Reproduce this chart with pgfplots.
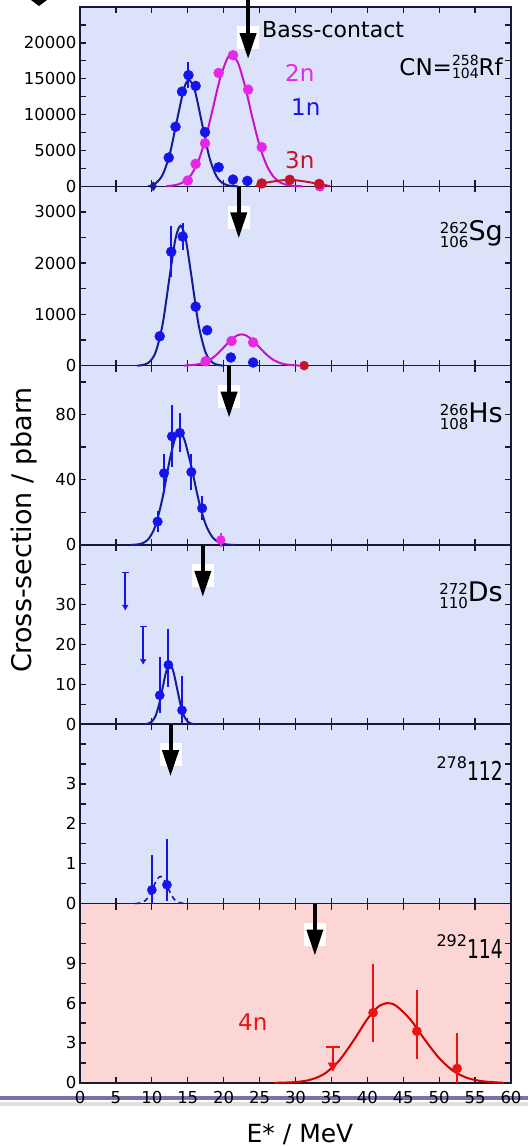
\documentclass[border=0pt]{standalone}
\usepackage{pgfplots}
\pgfplotsset{compat=1.18}
\usepackage{fontspec}
\setmainfont{DejaVu Sans}
\usepackage{graphicx}
\usetikzlibrary{arrows.meta}
\definecolor{bgblue}{RGB}{220,226,250}
\definecolor{bgpink}{RGB}{252,213,213}
\definecolor{axiscol}{RGB}{25,25,50}
\definecolor{ptblue}{RGB}{20,20,235}
\definecolor{cvblue}{RGB}{20,30,150}
\definecolor{ptmag}{RGB}{230,40,230}
\definecolor{cvmag}{RGB}{200,20,200}
\definecolor{redthree}{RGB}{200,20,40}
\definecolor{ptred}{RGB}{235,20,20}
\definecolor{cvred}{RGB}{210,0,0}
\definecolor{purp}{RGB}{128,110,170}

\pgfplotsset{
 panel/.style={scale only axis, width=431pt, height=179.3pt, anchor=north west,
   xmin=0, xmax=60, xtick={0,5,...,60}, xticklabels={}, ymin=0,
   scaled y ticks=false, scaled x ticks=false,
   tick align=inside, major tick length=6pt, minor tick length=6pt,
   axis line style={line width=1.5pt, draw=axiscol},
   tick style={line width=1.3pt, draw=axiscol},
   axis background/.style={fill=bgblue},
   /pgf/number format/assume math mode=true,
   ticklabel style={font=\fontsize{16.5}{18}\selectfont, text=black},
   clip=false,
 },
 curve/.style={line width=2pt, smooth, no marks},
 pts/.style={only marks, mark=*, mark size=5pt},
}
\newcommand{\bass}[3]{%
 \node[fill=white, inner sep=0pt, minimum width=22pt, minimum height=23pt, anchor=north] at ([yshift=-19pt]axis cs:#1,#2) {};
 \draw[line width=4pt, -{Triangle[length=26pt,width=16pt]}] ([yshift=#3]axis cs:#1,#2) -- ([yshift=-52pt]axis cs:#1,#2);
}
\newcommand{\stack}[4]{\raisebox{#4}{\fontsize{#3}{#3}\selectfont\begin{tabular}[b]{@{}r@{}}#1\\[-2pt]#2\end{tabular}}}

\begin{document}
\begin{tikzpicture}
\path[use as bounding box] (0,0) rectangle (528pt,-1146pt);
% bottom decoration line
\draw[line width=4pt, color=black!12] (0,-1104pt) -- (528pt,-1104pt);
\draw[line width=3.5pt, color=purp] (0,-1098pt) -- (528pt,-1098pt);
\fill (31pt,0pt) -- (47pt,0pt) -- (39pt,-6pt) -- cycle;

% ---------- panel 6 : 292-114
\begin{axis}[panel, at={(80pt,-903.5pt)}, axis background/.style={fill=bgpink},
  ymax=13.5, ytick={0,3,6,9}, yticklabels={0,3,6,9}, minor ytick={1.5,4.5,7.5,10.5,12},
  xticklabels={0,5,10,15,20,25,30,35,40,45,50,55,60},
  xticklabel style={yshift=-5pt}]
\addplot[curve, cvred] coordinates {(27,0)(28,0.012)(30,0.058)(32,0.22)(34,0.67)(36,1.62)(38,3.12)(40,4.8)(41.5,5.72)(42.8,6.0)(44,5.8)(46,4.76)(48,3.25)(50,1.86)(52,0.88)(54,0.35)(56,0.12)(58,0.03)(59,0)};
\addplot[pts, ptred, mark size=4.6pt, error bars/.cd, y dir=both, y explicit, error mark=none, error bar style={line width=2.2pt}]
 coordinates {(40.8,5.28) += (0,3.67) -= (0,2.18) (46.9,3.88) += (0,3.12) -= (0,2.05) (52.5,1.08) += (0,2.7) -= (0,1.08)};
\addplot[only marks, ptred, mark=triangle*, mark size=5.5pt, mark options={rotate=180}, error bars/.cd, y dir=plus, y explicit, error mark=|, error mark options={line width=2.2pt, mark size=7pt}, error bar style={line width=2.2pt}]
 coordinates {(35.2,1.3) += (0,1.4)};
\bass{32.7}{13.5}{0pt}
\end{axis}

% ---------- panel 5 : 278-112
\begin{axis}[panel, at={(80pt,-724.2pt)},
  ymax=4.5, ytick={0,1,2,3}, yticklabels={0,1,2,3}, minor ytick={0.5,1.5,2.5,3.5,4}]
\addplot[curve, cvblue, line width=1.6pt, dash pattern=on 5pt off 4pt] coordinates {(7.7,0)(8.2,0.008)(8.7,0.03)(9.2,0.092)(9.7,0.22)(10.2,0.41)(10.7,0.6)(11.2,0.68)(11.7,0.6)(12.2,0.41)(12.7,0.22)(13.2,0.092)(13.7,0.03)(14.2,0.008)(14.7,0)};
\addplot[pts, ptblue, mark size=4.6pt, error bars/.cd, y dir=both, y explicit, error mark=none, error bar style={line width=2pt}]
 coordinates {(10.0,0.34) += (0,0.88) -= (0,0.34) (12.1,0.47) += (0,1.14) -= (0,0.4)};
\bass{12.6}{4.5}{0pt}
\end{axis}

% ---------- panel 4 : Ds
\begin{axis}[panel, at={(80pt,-544.9pt)},
  ymax=45, ytick={0,10,20,30}, yticklabels={0,10,20,30}, minor ytick={5,15,25,35,40}]
\addplot[curve, cvblue] coordinates {(9,0)(9.5,0.17)(10,0.66)(10.5,2)(11,4.9)(11.5,9.1)(12,13.2)(12.5,15)(13,13.2)(13.5,9.1)(14,4.9)(14.5,2)(15,0.66)(15.5,0.17)(16,0)};
\addplot[pts, ptblue, mark size=4.6pt, error bars/.cd, y dir=both, y explicit, error mark=none, error bar style={line width=2pt}]
 coordinates {(11.1,7.25) += (0,9.5) -= (0,4.5) (12.3,14.9) += (0,9) -= (0,5.6) (14.2,3.5) += (0,8.5) -= (0,3.5)};
\addplot[only marks, ptblue, mark=triangle*, mark size=3.2pt, mark options={rotate=180}, error bars/.cd, y dir=plus, y explicit, error mark=|, error mark options={line width=1.8pt, mark size=3.5pt}, error bar style={line width=1.8pt}]
 coordinates {(6.3,29.5) += (0,8.6) (8.8,15.9) += (0,8.6)};
\bass{17.1}{45}{0pt}
\end{axis}

% ---------- panel 3 : Hs
\begin{axis}[panel, at={(80pt,-365.6pt)},
  ymax=110, ytick={0,40,80}, yticklabels={0,40,80}, minor ytick={20,60,100}]
\addplot[curve, cvblue] coordinates {(7,0)(7.5,0.1)(8.5,0.7)(9.5,3.4)(10.5,11.7)(11.5,29)(12.5,52.4)(13.3,66.2)(13.8,69)(14.5,65)(15.5,48)(16.5,27.7)(17.5,12.5)(18.5,4.4)(19.5,1.2)(20.5,0.25)(21.5,0)};
\addplot[pts, ptblue, mark size=4.8pt, error bars/.cd, y dir=both, y explicit, error mark=none, error bar style={line width=2pt}]
 coordinates {(10.8,14.3) +- (0,6.5) (11.7,44) +- (0,12) (12.8,66.6) +- (0,19) (13.9,68.7) +- (0,12) (15.5,44.7) +- (0,11) (17.0,22.5) +- (0,7.5)};
\addplot[pts, ptmag, mark size=4.5pt, error bars/.cd, y dir=both, y explicit, error mark=none, error bar style={line width=2pt}]
 coordinates {(19.6,3) +- (0,4)};
\bass{20.75}{110}{0pt}
\end{axis}

% ---------- panel 2 : Sg
\begin{axis}[panel, at={(80pt,-186.3pt)},
  ymax=3500, ytick={0,1000,2000,3000}, yticklabels={0,1000,2000,3000}, minor ytick={500,1500,2500}]
\addplot[curve, cvblue] coordinates {(8,0)(8.5,7)(9.5,52)(10.5,250)(11.5,806)(12.5,1758)(13.3,2480)(14,2730)(14.7,2480)(15.5,1758)(16.5,806)(17.5,250)(18.5,52)(19.5,7)(20,0)};
\addplot[curve, cvmag] coordinates {(14.5,0)(15,5)(16,16)(17,44)(18,105)(19,211)(20,354)(21,502)(22,597)(22.5,610)(23,597)(24,502)(25,354)(26,211)(27,105)(28,44)(29,16)(30,5)(30.5,0)};
\addplot[pts, ptblue, error bars/.cd, y dir=both, y explicit, error mark=none, error bar style={line width=2pt}]
 coordinates {(11.1,572) (12.7,2222) +- (0,500) (14.3,2519) +- (0,260) (16.1,1150) (17.7,690) (21.0,158) (24.1,60)};
\addplot[pts, ptmag] coordinates {(17.5,85)(21.1,480)(24.1,453)};
\addplot[pts, redthree, mark size=4.5pt] coordinates {(31.2,0)};
\bass{22.1}{3500}{0pt}
\end{axis}

% ---------- panel 1 : Rf
\begin{axis}[panel, at={(80pt,-7pt)},
  ymax=25000, ytick={0,5000,10000,15000,20000}, yticklabels={0,5000,10000,15000,20000}, minor ytick={2500,7500,12500,17500,22500}]
\addplot[curve, cvblue] coordinates {(9.5,0)(10.5,400)(11.5,1600)(12.5,4500)(13.5,9200)(14.5,13700)(15.2,14800)(16,13300)(17,8700)(18,4100)(19,1400)(20,350)(21,60)(22,0)};
\addplot[curve, cvmag] coordinates {(12,0)(12.5,60)(13.5,215)(14.5,640)(15.5,1640)(16.5,3590)(17.5,6750)(18.5,10880)(19.5,15030)(20.5,17800)(21.1,18300)(22,17200)(23,13860)(24,9580)(25,5680)(26,2890)(27,1260)(28,470)(29,150)(30,40)(31,0)};
\addplot[line width=2pt, redthree, smooth, tension=0.5, no marks] coordinates {(24.5,0)(25.3,400)(29.2,900)(33.3,330)(34.8,0)};
\addplot[pts, ptmag] coordinates {(15.0,800)(16.1,3130)(17.4,6000)(19.3,15800)(21.3,18280)(23.4,13480)(25.3,5450)(33.4,0)};
\addplot[pts, ptblue, error bars/.cd, y dir=both, y explicit, error mark=none, error bar style={line width=2pt}]
 coordinates {(12.35,4000) (13.3,8300) (14.2,13200) (15.1,15500) +- (0,1800) (16.1,14000) (17.4,7550) (19.3,2650) (21.3,940) (23.3,750)};
\addplot[only marks, mark=diamond*, mark size=4.5pt, cvblue] coordinates {(10.2,0)};
\addplot[pts, redthree] coordinates {(25.3,400)(29.2,900)(33.3,330)};
\bass{23.4}{25000}{7pt}
\end{axis}

% ---------- texts
\node[anchor=base west, inner sep=0pt, font=\fontsize{22}{24}\selectfont] at (262pt,-37pt) {Bass-contact};
\node[anchor=base west, inner sep=0pt, text=ptmag, font=\fontsize{23}{24}\selectfont] at (285pt,-81pt) {2n};
\node[anchor=base west, inner sep=0pt, text=ptblue, font=\fontsize{23}{24}\selectfont] at (291pt,-115pt) {1n};
\node[anchor=base west, inner sep=0pt, text=redthree, font=\fontsize{23}{24}\selectfont] at (285pt,-168pt) {3n};
\node[anchor=base west, inner sep=0pt, text=ptred, font=\fontsize{23}{24}\selectfont] at (238pt,-1030pt) {4n};

\node[anchor=base east, inner sep=0pt, font=\fontsize{23}{24}\selectfont] at (503pt,-75pt) {CN=\stack{258}{104}{14}{-3pt}Rf};
\node[anchor=base east, inner sep=0pt, font=\fontsize{27}{28}\selectfont] at (503pt,-240pt) {\stack{262}{106}{15}{-7pt}Sg};
\node[anchor=base east, inner sep=0pt, font=\fontsize{27}{28}\selectfont] at (503pt,-422pt) {\stack{266}{108}{15}{-7pt}Hs};
\node[anchor=base east, inner sep=0pt, font=\fontsize{27}{28}\selectfont] at (503pt,-601pt) {\stack{272}{110}{15}{-7pt}Ds};
\node[anchor=base east, inner sep=0pt] at (503pt,-780pt) {\raisebox{12pt}{\fontsize{16}{16}\selectfont 278}\scalebox{0.72}[1]{\fontsize{26}{26}\selectfont 112}};
\node[anchor=base east, inner sep=0pt] at (503pt,-958pt) {\raisebox{12pt}{\fontsize{16}{16}\selectfont 292}\scalebox{0.72}[1]{\fontsize{26}{26}\selectfont 114}};

\node[rotate=90, font=\fontsize{27}{30}\selectfont] at (24.5pt,-530pt) {Cross-section / pbarn};
\node[anchor=base, inner sep=0pt, font=\fontsize{25}{28}\selectfont] at (300pt,-1142pt) {E* / MeV};
\end{tikzpicture}
\end{document}
